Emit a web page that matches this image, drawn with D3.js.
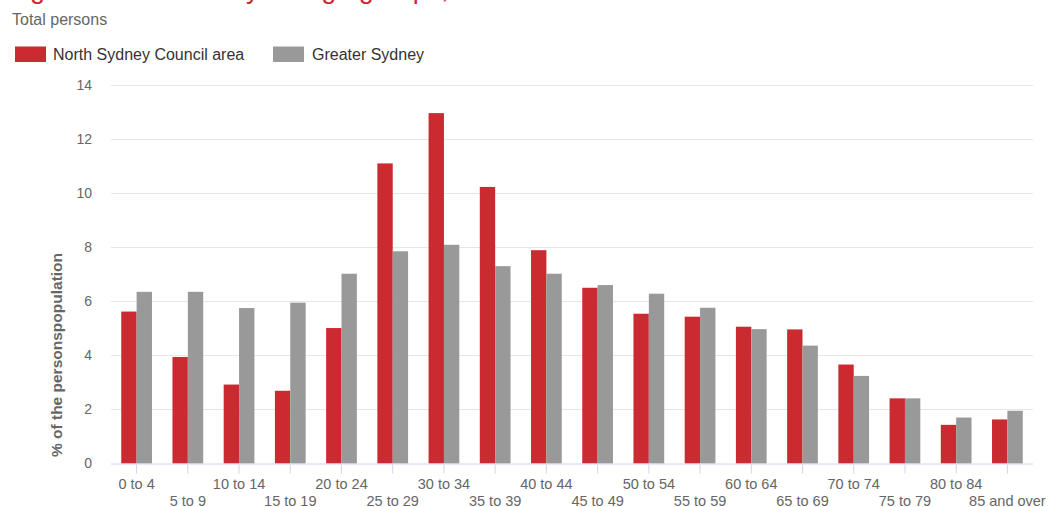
<!DOCTYPE html>
<html>
<head>
<meta charset="utf-8">
<script src="https://cdn.jsdelivr.net/npm/d3@7"></script>
<style>
  html, body { margin: 0; padding: 0; background: #fff; }
  svg { display: block; font-family: "Liberation Sans", Arial, sans-serif; }
</style>
</head>
<body>
<svg id="chart" width="1048" height="507"></svg>
<script>
// Five-year age groups, % of total persons
const categories = ["0 to 4", "5 to 9", "10 to 14", "15 to 19", "20 to 24", "25 to 29",
  "30 to 34", "35 to 39", "40 to 44", "45 to 49", "50 to 54", "55 to 59", "60 to 64",
  "65 to 69", "70 to 74", "75 to 79", "80 to 84", "85 and over"];
const seriesNames = ["North Sydney Council area", "Greater Sydney"];
const northSydney = [5.62, 3.94, 2.92, 2.69, 5.01, 11.10, 12.96, 10.23, 7.89, 6.50,
  5.54, 5.43, 5.06, 4.96, 3.66, 2.41, 1.43, 1.63];
const greaterSydney = [6.35, 6.35, 5.75, 5.95, 7.02, 7.85, 8.09, 7.30, 7.02, 6.60,
  6.28, 5.76, 4.97, 4.36, 3.24, 2.41, 1.70, 1.95];
const yTicks = [0, 2, 4, 6, 8, 10, 12, 14];
const colors = ["#cb2a31", "#999999"];

const svg = d3.select("#chart");
const plot = { left: 111, right: 1033, top: 85, bottom: 463.5 };

// Title (sits partly above the visible area)
svg.append("text")
  .attr("x", 12).attr("y", -2.5)
  .attr("fill", "#cb2a31")
  .attr("font-size", 27)
  .text("Age structure - five year age groups, 2021");

svg.append("text")
  .attr("x", 12).attr("y", 25)
  .attr("fill", "#666")
  .attr("font-size", 16)
  .text("Total persons");

// Legend
const legend = svg.append("g");
const legendItems = [{ x: 15, tx: 53 }, { x: 273, tx: 312 }];
seriesNames.forEach((name, i) => {
  legend.append("rect")
    .attr("x", legendItems[i].x).attr("y", 46.5)
    .attr("width", 31).attr("height", 15.5)
    .attr("fill", colors[i]);
  legend.append("text")
    .attr("x", legendItems[i].tx).attr("y", 59.5)
    .attr("fill", "#333")
    .attr("font-size", 16)
    .text(name);
});

// Scales
const x = d3.scaleBand().domain(categories).range([plot.left, plot.right]).padding(0);
const xInner = d3.scaleBand().domain(seriesNames)
  .range([x.bandwidth() * 0.2, x.bandwidth() * 0.8]).padding(0);
const y = d3.scaleLinear().domain([0, 14]).range([plot.bottom, plot.top]);

// Gridlines
svg.append("g").selectAll("line")
  .data(yTicks.filter(d => d > 0))
  .join("line")
  .attr("x1", plot.left).attr("x2", plot.right)
  .attr("y1", d => Math.round(y(d)) + 0.5).attr("y2", d => Math.round(y(d)) + 0.5)
  .attr("stroke", "#e6e6e6").attr("stroke-width", 1);

// Y axis labels
const yAxis = d3.axisLeft(y).tickValues(yTicks).tickSize(0).tickPadding(0).tickFormat(d3.format("d"));
const yg = svg.append("g").attr("transform", `translate(92,0)`).call(yAxis);
yg.select(".domain").remove();
yg.selectAll("text").attr("fill", "#666").attr("font-size", 14)
  .attr("font-family", "Liberation Sans, Arial, sans-serif");

// Y axis title
svg.append("text")
  .attr("transform", "translate(62,355) rotate(-90)")
  .attr("text-anchor", "middle")
  .attr("fill", "#666")
  .attr("font-size", 15.5)
  .attr("font-weight", "bold")
  .text("% of the personspopulation");

// Bars
const rows = categories.map((c, i) => ({ cat: c, values: [northSydney[i], greaterSydney[i]] }));
const groups = svg.append("g").selectAll("g")
  .data(rows).join("g")
  .attr("transform", d => `translate(${x(d.cat)},0)`);
groups.selectAll("rect")
  .data(d => d.values.map((v, i) => ({ name: seriesNames[i], value: v, i })))
  .join("rect")
  .attr("x", d => xInner(d.name))
  .attr("width", xInner.bandwidth())
  .attr("y", d => y(d.value))
  .attr("height", d => y(0) - y(d.value))
  .attr("fill", d => colors[d.i]);

// X axis
const xAxis = d3.axisBottom(x).tickSize(10).tickPadding(0);
const xg = svg.append("g").attr("transform", `translate(0,${plot.bottom})`).call(xAxis);
xg.select(".domain").attr("stroke", "#ccd6eb").attr("d", `M${plot.left},0.5H${plot.right}`);
xg.selectAll(".tick line").attr("stroke", "#ccd6eb").attr("y1", 1);
xg.selectAll(".tick text")
  .attr("fill", "#666")
  .attr("font-size", 14.5)
  .attr("font-family", "Liberation Sans, Arial, sans-serif")
  .attr("dy", null)
  .attr("y", (d, i) => i % 2 === 0 ? 25 : 42);
</script>
</body>
</html>
